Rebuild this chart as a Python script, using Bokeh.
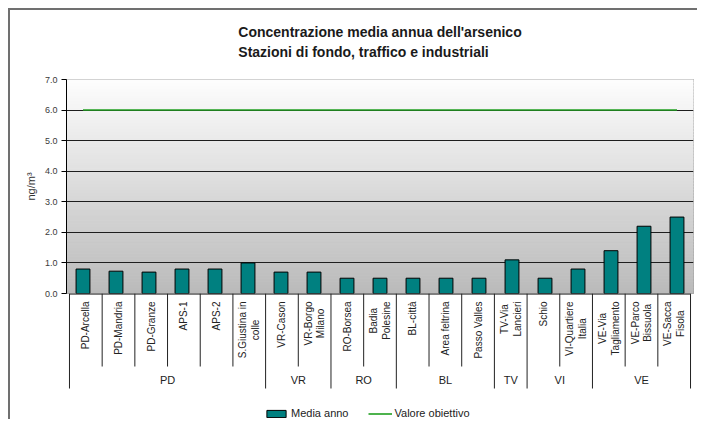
import numpy as np
from bokeh.plotting import figure
from bokeh.models import (Range1d, FixedTicker, PrintfTickFormatter, Title,
                          Legend, LegendItem)
from bokeh.layouts import column
from bokeh.core.properties import value
from bokeh.embed import file_html
from bokeh.resources import INLINE

# ---------------- data ----------------
stations = ["PD-Arcella", "PD-Mandria", "PD-Granze", "APS-1", "APS-2",
            "S.Giustina in\ncolle", "VR-Cason", "VR-Borgo\nMilano",
            "RO-Borsea", "Badia\nPolesine", "BL-città", "Area feltrina",
            "Passo Valles", "TV-Via\nLancieri", "Schio", "VI-Quartiere\nItalia",
            "VE-Via\nTagliamento", "VE-Parco\nBissuola", "VE-Sacca\nFisola"]
media_anno = [0.8, 0.73, 0.7, 0.8, 0.8, 1.0, 0.7, 0.7, 0.5, 0.5, 0.5, 0.5,
              0.5, 1.1, 0.5, 0.8, 1.4, 2.2, 2.5]
valore_obiettivo = [6.0, 6.0, 6.0, 6.0, 6.0, 6.0, 6.0, 6.0, 6.0, 6.0, 6.0,
                    6.0, 6.0, 6.0, 6.0, 6.0, 6.0, 6.0, 6.0]
group_names = ["PD", "VR", "RO", "BL", "TV", "VI", "VE"]
group_sizes = [6, 2, 2, 3, 1, 2, 3]
y_ticks = [0, 1, 2, 3, 4, 5, 6, 7]

FONT = "Liberation Sans"
TEAL = "#008080"
GREEN = "#22a022"

n = len(stations)
xc = [i + 0.5 for i in range(n)]

# ---------------- main chart ----------------
p1 = figure(width=687, height=300, x_range=Range1d(0, n), y_range=Range1d(0, 7),
            x_axis_location=None, title=None,
            min_border_left=56, min_border_right=4, min_border_top=80,
            min_border_bottom=6, output_backend="svg", toolbar_location=None,
            styles={"margin-top": "-11px"})
p1.outline_line_color = "#8c8c8c"
p1.border_fill_alpha = 0
for g in p1.xgrid:
    g.visible = False

# gradient background (white top -> gray bottom)
nb = 70
edges = np.linspace(0, 7, nb + 1)
top_c = np.array([253, 253, 253])
bot_c = np.array([186, 186, 186])
cols = []
for k in range(nb):
    t = (edges[k] + edges[k + 1]) / 2 / 7
    c = bot_c + (top_c - bot_c) * t
    cols.append("#%02x%02x%02x" % tuple(int(round(v)) for v in c))
p1.quad(left=0, right=n, bottom=edges[:-1], top=edges[1:], fill_color=cols,
        line_color=cols, line_width=1, level="image")

p1.yaxis.ticker = FixedTicker(ticks=y_ticks)
p1.yaxis.formatter = PrintfTickFormatter(format="%.1f")
p1.yaxis.major_label_text_font = FONT
p1.yaxis.major_label_text_font_size = "9px"
p1.yaxis.major_label_text_color = "#3a3a3a"
p1.yaxis.major_tick_out = 5
p1.yaxis.major_tick_in = 0
p1.yaxis.minor_tick_out = 0
p1.yaxis.minor_tick_in = 0
p1.yaxis.major_label_standoff = 4
p1.yaxis.axis_line_color = "black"
p1.yaxis.major_tick_line_color = "black"
p1.yaxis.axis_label = "ng/m³"
p1.yaxis.axis_label_text_font = FONT
p1.yaxis.axis_label_text_font_size = "11px"
p1.yaxis.axis_label_text_font_style = "normal"
p1.yaxis.axis_label_text_color = "#333333"
p1.yaxis.axis_label_standoff = 5
p1.ygrid.grid_line_color = "#1e1e1e"
p1.ygrid.grid_line_width = 1

p1.vbar(x=xc, top=media_anno, bottom=0, width=0.42, fill_color=TEAL,
        line_color="black", line_width=1)
p1.line(x=xc, y=valore_obiettivo, line_color=GREEN, line_width=1.6)

p1.add_layout(Title(text="Concentrazione media annua dell'arsenico\nStazioni di fondo, traffico e industriali",
                    align="center", text_font=FONT, text_font_size="14px",
                    text_font_style="bold", text_color="#1a1a1a",
                    text_line_height=1.25, standoff=40), "above")

# ---------------- category axis area ----------------
ext = 3 / 33
H2 = 126
p2 = figure(width=687, height=H2, x_range=Range1d(-ext, n + ext),
            y_range=Range1d(-H2, 0), x_axis_location=None, y_axis_location=None,
            title=None, min_border_left=53, min_border_right=1, min_border_top=0,
            min_border_bottom=0, output_backend="svg", toolbar_location=None,
            styles={"margin-top": "-6px"})
p2.outline_line_color = None
p2.border_fill_alpha = 0
p2.background_fill_alpha = 0
for g in list(p2.xgrid) + list(p2.ygrid):
    g.visible = False

bounds = [0]
for s in group_sizes:
    bounds.append(bounds[-1] + s)
station_seps = [i for i in range(1, n) if i not in bounds]

p2.segment(x0=[0], y0=[-0.5], x1=[n], y1=[-0.5], line_color="black", line_width=1)
p2.segment(x0=station_seps, y0=0, x1=station_seps, y1=-73,
           line_color="#222222", line_width=1)
p2.segment(x0=bounds, y0=0, x1=bounds, y1=-95, line_color="#222222", line_width=1)

p2.text(x=xc, y=-8, text=stations, angle=np.pi / 2, anchor=value("center_right"),
        text_align="center", text_baseline="middle", text_font=value(FONT),
        text_font_size="10px", text_color="#222222", text_line_height=1.15)

gcent = [(bounds[k] + bounds[k + 1]) / 2 for k in range(len(group_names))]
p2.text(x=gcent, y=-86, text=group_names, text_align="center",
        text_baseline="middle", text_font=value(FONT), text_font_size="11px",
        text_color="#222222")

# legend swatches (renderers kept outside the visible range)
r_bar = p2.vbar(x=[-10], top=[-1000], bottom=[-1001], width=0.42,
                fill_color=TEAL, line_color="black")
r_line = p2.line(x=[-11, -10], y=[-1000, -1000], line_color=GREEN, line_width=1.6)
legend = Legend(items=[LegendItem(label="Media anno", renderers=[r_bar]),
                       LegendItem(label="Valore obiettivo", renderers=[r_line])],
                location=(198, 0), orientation="horizontal",
                label_text_font=FONT, label_text_font_size="11px",
                label_text_color="#222222", glyph_width=24, glyph_height=9,
                label_height=12, label_standoff=3, spacing=19, padding=0,
                margin=0, border_line_color=None, background_fill_alpha=0)
p2.add_layout(legend)

layout = column(p1, p2, styles={"border-left": "2px solid #707070",
                                "border-top": "2px solid #707070",
                                "margin-left": "8px", "margin-top": "8px"})

open("out.html", "w").write(file_html(layout, INLINE))
